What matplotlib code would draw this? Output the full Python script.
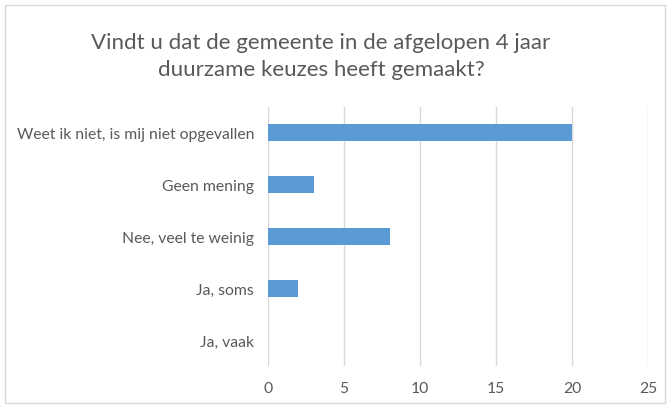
import numpy as np
import matplotlib.pyplot as plt
from matplotlib.patches import Rectangle

categories = ['Weet ik niet, is mij niet opgevallen', 'Geen mening',
              'Nee, veel te weinig', 'Ja, soms', 'Ja, vaak']
values = [20, 3, 8, 2, 0]
xticks = [0, 5, 10, 15, 20, 25]

plt.rcParams['font.family'] = ['Lato', 'DejaVu Sans']
txt = '#595959'

fig = plt.figure(figsize=(6.7, 4.1), dpi=100)
ax = fig.add_axes([0.4, 0.105, 0.567, 0.632])

y = np.arange(len(categories))
ax.barh(y, values, height=0.33, color='#5B9BD5', zorder=3)
ax.set_ylim(len(categories) - 0.5, -0.5)
ax.set_xlim(0, 25)
ax.set_xticks(xticks)
ax.set_yticks(y)
ax.set_yticklabels(categories)
ax.tick_params(length=0, colors=txt, labelsize=11.3)
ax.tick_params(axis='y', pad=10)
ax.tick_params(axis='x', pad=11)
ax.grid(axis='x', color='#D9D9D9', linewidth=1, zorder=0)
for s in ax.spines.values():
    s.set_visible(False)

fig.text(0.479, 0.862, 'Vindt u dat de gemeente in de afgelopen 4 jaar\nduurzame keuzes heeft gemaakt?',
         ha='center', va='center', fontsize=16, color=txt, linespacing=1.45)

fig.patches.append(Rectangle((0.007, 0.015), 0.985, 0.97, transform=fig.transFigure,
                             fill=False, edgecolor='#D9D9D9', linewidth=1))

fig.savefig('out.png', dpi=100)
